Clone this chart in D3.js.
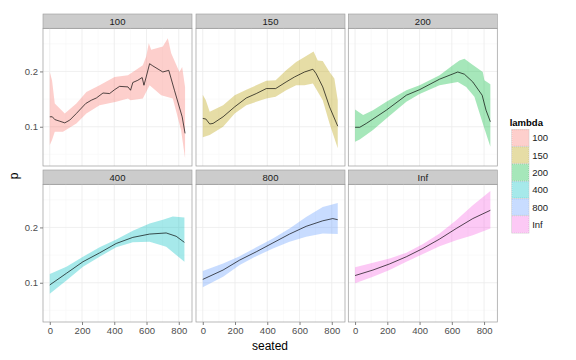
<!DOCTYPE html>
<html>
<head>
<meta charset="utf-8">
<script src="https://cdn.jsdelivr.net/npm/d3@7"></script>
<style>
  body { margin: 0; background: #fff; }
  text { font-family: "Liberation Sans", Arial, sans-serif; }
</style>
</head>
<body>
<svg id="chart" width="576" height="360"></svg>
<script>
"use strict";

// facet levels and their colours (ggplot hue palette)
const lambdas = ["100", "150", "200", "400", "800", "Inf"];
const colors = ["#F8766D", "#B79F00", "#00BA38", "#00BFC4", "#619CFF", "#F564E3"];

// fitted line per lambda, [seated, p]
const fit100 = [[0,0.118],[16,0.118],[31,0.113],[62,0.110],[93,0.107],[124,0.112],[165,0.124],[223,0.142],[258,0.148],[289,0.152],[330,0.161],[371,0.160],[402,0.167],[433,0.173],[485,0.172],[501,0.166],[515,0.180],[546,0.184],[573,0.189],[584,0.175],[598,0.190],[619,0.214],[639,0.210],[701,0.199],[738,0.202],[773,0.166],[821,0.118],[839,0.088]];
const upper100 = [[0,0.199],[14,0.184],[31,0.142],[93,0.124],[165,0.142],[227,0.163],[309,0.175],[402,0.190],[485,0.193],[515,0.199],[577,0.211],[598,0.227],[614,0.251],[629,0.239],[701,0.245],[732,0.260],[753,0.233],[804,0.199],[821,0.208],[839,0.172]];
const lower100 = [[0,0.067],[14,0.076],[31,0.091],[82,0.091],[165,0.106],[227,0.124],[309,0.139],[412,0.145],[485,0.151],[501,0.148],[577,0.151],[619,0.175],[691,0.157],[763,0.151],[814,0.094],[839,0.043]];

const fit150 = [[0,0.115],[19,0.114],[43,0.105],[64,0.106],[126,0.118],[198,0.136],[270,0.152],[332,0.160],[394,0.169],[452,0.169],[517,0.181],[569,0.190],[631,0.199],[683,0.204],[703,0.196],[744,0.172],[786,0.136],[837,0.101]];
const upper150 = [[0,0.158],[19,0.148],[43,0.127],[126,0.139],[198,0.157],[270,0.167],[394,0.183],[452,0.184],[517,0.202],[579,0.217],[631,0.226],[687,0.236],[713,0.220],[744,0.219],[786,0.199],[816,0.187],[837,0.148]];
const lower150 = [[0,0.081],[43,0.085],[126,0.100],[198,0.124],[270,0.139],[394,0.151],[452,0.154],[517,0.166],[579,0.175],[631,0.175],[683,0.178],[744,0.148],[786,0.106],[837,0.061]];

const fit200 = [[0,0.099],[29,0.099],[70,0.106],[194,0.130],[318,0.157],[400,0.167],[524,0.186],[637,0.199],[678,0.195],[730,0.181],[788,0.157],[812,0.130],[839,0.109]];
const upper200 = [[0,0.131],[50,0.121],[111,0.130],[194,0.145],[318,0.166],[400,0.175],[524,0.193],[606,0.211],[647,0.220],[678,0.223],[720,0.214],[792,0.199],[802,0.184],[839,0.177]];
const lower200 = [[0,0.073],[29,0.077],[111,0.094],[194,0.115],[318,0.145],[400,0.159],[524,0.175],[637,0.181],[689,0.172],[740,0.154],[792,0.106],[839,0.064]];

const fit400 = [[0,0.096],[103,0.117],[206,0.138],[309,0.154],[412,0.171],[515,0.182],[619,0.188],[722,0.190],[784,0.184],[835,0.173]];
const upper400 = [[0,0.116],[103,0.129],[206,0.147],[309,0.164],[412,0.178],[515,0.194],[619,0.207],[701,0.214],[763,0.220],[835,0.218]];
const lower400 = [[0,0.080],[103,0.104],[206,0.129],[309,0.147],[412,0.164],[515,0.173],[619,0.174],[722,0.165],[784,0.150],[835,0.138]];

const fit800 = [[0,0.106],[126,0.123],[229,0.141],[332,0.156],[435,0.172],[538,0.188],[641,0.202],[744,0.212],[806,0.216],[837,0.214]];
const upper800 = [[0,0.121],[126,0.135],[229,0.148],[332,0.164],[435,0.180],[538,0.198],[641,0.219],[744,0.237],[837,0.244]];
const lower800 = [[0,0.092],[126,0.111],[229,0.132],[332,0.148],[435,0.162],[538,0.174],[641,0.183],[744,0.189],[837,0.188]];

const fitInf = [[0,0.113],[111,0.123],[214,0.134],[318,0.147],[421,0.162],[524,0.179],[627,0.198],[730,0.216],[839,0.231]];
const upperInf = [[0,0.128],[111,0.136],[214,0.144],[318,0.154],[421,0.170],[524,0.189],[627,0.213],[730,0.240],[839,0.266]];
const lowerInf = [[0,0.099],[111,0.111],[214,0.123],[318,0.138],[421,0.152],[524,0.166],[627,0.177],[730,0.186],[839,0.198]];

const xTicks = [0, 200, 400, 600, 800];
const xMinor = [100, 300, 500, 700];
const yTicks = [0.1, 0.2];
const yMinor = [0.05, 0.15, 0.25];

const series = [
    { fit: fit100, upper: upper100, lower: lower100 },
    { fit: fit150, upper: upper150, lower: lower150 },
    { fit: fit200, upper: upper200, lower: lower200 },
    { fit: fit400, upper: upper400, lower: lower400 },
    { fit: fit800, upper: upper800, lower: lower800 },
    { fit: fitInf, upper: upperInf, lower: lowerInf }
];

const svg = d3.select("#chart");

// facet layout
const colLeft = [43, 196, 348.3];
const rowTop = [14, 170];
const panelW = 149, stripH = 14.3, panelH = 137.7;

const x = d3.scaleLinear().domain([-42, 882]).range([0, panelW]);
const y = d3.scaleLinear().domain([0.029, 0.278]).range([panelH, 0]);

const line = d3.line().x(d => x(d[0])).y(d => y(d[1]));

lambdas.forEach(function (lam, i) {
    let col = i % 3, row = Math.floor(i / 3);
    let g = svg.append("g")
        .attr("transform", "translate(" + colLeft[col] + "," + (rowTop[row] + stripH) + ")");

    // strip
    g.append("rect")
        .attr("x", 0).attr("y", -stripH)
        .attr("width", panelW).attr("height", stripH)
        .style("fill", "#CCCCCC").style("stroke", "#9a9a9a").style("stroke-width", 0.6);
    g.append("text")
        .attr("x", panelW / 2).attr("y", -stripH / 2)
        .style("text-anchor", "middle").style("dominant-baseline", "central")
        .style("font-size", "9.5px").style("fill", "#1a1a1a")
        .text(lam);

    // grid
    g.selectAll(".xminor").data(xMinor).enter().append("line")
        .attr("x1", d => x(d)).attr("x2", d => x(d)).attr("y1", 0).attr("y2", panelH)
        .style("stroke", "#F7F7F7").style("stroke-width", 0.6);
    g.selectAll(".yminor").data(yMinor).enter().append("line")
        .attr("y1", d => y(d)).attr("y2", d => y(d)).attr("x1", 0).attr("x2", panelW)
        .style("stroke", "#F7F7F7").style("stroke-width", 0.6);
    g.selectAll(".xmajor").data(xTicks).enter().append("line")
        .attr("x1", d => x(d)).attr("x2", d => x(d)).attr("y1", 0).attr("y2", panelH)
        .style("stroke", "#EBEBEB").style("stroke-width", 0.8);
    g.selectAll(".ymajor").data(yTicks).enter().append("line")
        .attr("y1", d => y(d)).attr("y2", d => y(d)).attr("x1", 0).attr("x2", panelW)
        .style("stroke", "#EBEBEB").style("stroke-width", 0.8);

    // ribbon: upper forward, lower back
    let s = series[i];
    let poly = s.upper.concat(s.lower.slice().reverse());
    g.append("path")
        .attr("d", line(poly) + "Z")
        .style("fill", colors[i]).style("fill-opacity", 0.35).style("stroke", "none");

    g.append("path")
        .attr("d", line(s.fit))
        .style("fill", "none").style("stroke", "#000").style("stroke-opacity", 0.85)
        .style("stroke-width", 0.8);

    // panel border
    g.append("rect")
        .attr("width", panelW).attr("height", panelH)
        .style("fill", "none").style("stroke", "#9a9a9a").style("stroke-width", 0.7);

    // axes
    if (col === 0) {
        let ax = g.append("g").call(d3.axisLeft(y).tickValues(yTicks).tickSize(3).tickPadding(2).tickFormat(d3.format(".1f")));
        ax.select(".domain").remove();
        ax.selectAll("line").style("stroke", "#7f7f7f");
        ax.selectAll("text").style("font-size", "9.5px").style("fill", "#4d4d4d")
            .style("font-family", "Liberation Sans, Arial, sans-serif");
    }
    if (row === 1) {
        let ax = g.append("g").attr("transform", "translate(0," + panelH + ")")
            .call(d3.axisBottom(x).tickValues(xTicks).tickSize(3).tickPadding(2));
        ax.select(".domain").remove();
        ax.selectAll("line").style("stroke", "#7f7f7f");
        ax.selectAll("text").style("font-size", "9.5px").style("fill", "#4d4d4d")
            .style("font-family", "Liberation Sans, Arial, sans-serif");
    }
});

// axis titles
svg.append("text")
    .attr("x", 270).attr("y", 350)
    .style("text-anchor", "middle").style("font-size", "12px")
    .text("seated");
svg.append("text")
    .attr("transform", "translate(18,176) rotate(-90)")
    .style("text-anchor", "middle").style("font-size", "12px")
    .text("p");

// legend
let legend = svg.append("g").attr("transform", "translate(511.7,129.3)");
legend.append("text")
    .attr("x", -2).attr("y", -3)
    .style("font-size", "9.5px").style("font-weight", "bold")
    .text("lambda");
let keys = legend.selectAll("g.key").data(lambdas).enter().append("g")
    .attr("transform", (d, i) => "translate(0," + i * 17.3 + ")");
keys.append("rect")
    .attr("width", 17.3).attr("height", 17.3)
    .style("fill", "#fff").style("stroke", "#d0d0d0").style("stroke-width", 0.6);
keys.append("rect")
    .attr("x", 0.5).attr("y", 0.5).attr("width", 16.3).attr("height", 16.3)
    .style("fill", (d, i) => colors[i]).style("fill-opacity", 0.35)
    .style("stroke", (d, i) => colors[i]).style("stroke-opacity", 0.5)
    .style("stroke-dasharray", "1,1").style("stroke-width", 0.6);
keys.append("text")
    .attr("x", 20.5).attr("y", 8.65)
    .style("dominant-baseline", "central").style("font-size", "9.5px").style("fill", "#1a1a1a")
    .text(d => d);
</script>
</body>
</html>
